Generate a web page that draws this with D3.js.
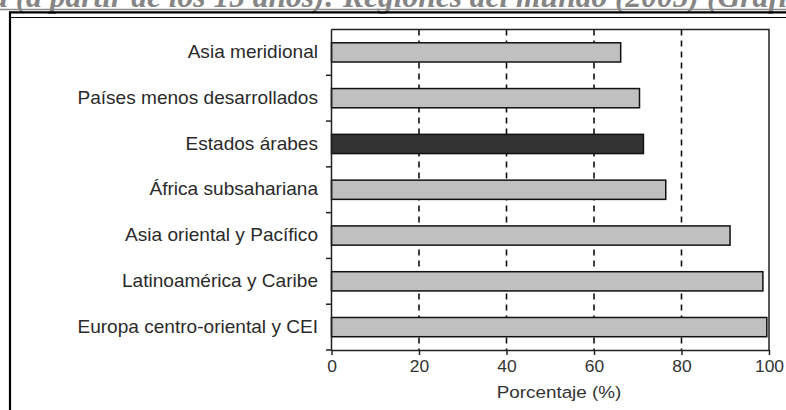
<!DOCTYPE html>
<html>
<head>
<meta charset="utf-8">
<script src="https://cdn.jsdelivr.net/npm/d3@7/dist/d3.min.js"></script>
<style>
  html, body { margin: 0; padding: 0; background: #fff; }
  svg { display: block; }
</style>
</head>
<body>
<svg id="chart" width="786" height="410"></svg>
<script>
// ---- data ----
const categories = [
  "Asia meridional",
  "Países menos desarrollados",
  "Estados árabes",
  "África subsahariana",
  "Asia oriental y Pacífico",
  "Latinoamérica y Caribe",
  "Europa centro-oriental y CEI"
];
const values = [66.1, 70.4, 71.3, 76.4, 91.1, 98.6, 99.5];
const highlighted = ["Estados árabes"];
const xTicks = [0, 20, 40, 60, 80, 100];
const gridTicks = [20, 40, 60, 80];
const xTitle = "Porcentaje (%)";
const headerText = "a (a partir de los 15 años): Regiones del mundo (2005) (Gráfico 1)";

// ---- layout ----
const svg = d3.select("#chart");
const pLeft = 331.5, pRight = 769, pTop = 29.5, pBottom = 350;
const SX = 1.09;
const font = "'Liberation Sans', Arial, sans-serif";

const x = d3.scaleLinear().domain([0, 100]).range([pLeft, pRight]);
const y = d3.scaleBand().domain(categories).range([pTop, pBottom])
  .paddingInner(0.58).paddingOuter(0.29);

// header (cut-off title) and frame
svg.append("text")
  .attr("x", -8).attr("y", 6.5)
  .attr("font-family", "'Liberation Serif', 'Times New Roman', serif")
  .attr("font-style", "italic").attr("font-weight", "bold")
  .attr("font-size", 31.5).attr("fill", "#858585")
  .text(headerText);
svg.append("line").attr("x1", 0).attr("x2", 786).attr("y1", 9.6).attr("y2", 9.6)
  .attr("stroke", "#8a8a8a").attr("stroke-width", 1.5);
svg.append("line").attr("x1", 9).attr("x2", 786).attr("y1", 12.3).attr("y2", 12.3)
  .attr("stroke", "#000").attr("stroke-width", 2.2);
svg.append("line").attr("x1", 11).attr("x2", 786).attr("y1", 17.5).attr("y2", 17.5)
  .attr("stroke", "#000").attr("stroke-width", 1);
svg.append("line").attr("x1", 10).attr("x2", 10).attr("y1", 11.5).attr("y2", 410)
  .attr("stroke", "#000").attr("stroke-width", 2.2);

// gridlines
svg.append("g").selectAll("line").data(gridTicks).join("line")
  .attr("x1", d => x(d)).attr("x2", d => x(d))
  .attr("y1", pTop).attr("y2", pBottom)
  .attr("stroke", "#111").attr("stroke-width", 1.6)
  .attr("stroke-dasharray", "6,5");

// plot frame top/right
svg.append("path")
  .attr("d", `M${pLeft},${pTop}H${pRight}V${pBottom}`)
  .attr("fill", "none").attr("stroke", "#222").attr("stroke-width", 1.5);

// bars
svg.append("g").selectAll("rect").data(categories).join("rect")
  .attr("x", x(0))
  .attr("y", d => y(d))
  .attr("width", (d, i) => x(values[i]) - x(0))
  .attr("height", y.bandwidth())
  .attr("fill", d => highlighted.includes(d) ? "#333333" : "#c0c0c0")
  .attr("stroke", "#111").attr("stroke-width", 1.5);

// x axis
const xAxis = svg.append("g").attr("transform", `translate(0,${pBottom})`)
  .call(d3.axisBottom(x).tickValues(xTicks).tickSize(5).tickSizeOuter(0).tickPadding(6));
xAxis.select(".domain").attr("stroke", "#222").attr("stroke-width", 1.5);
xAxis.selectAll(".tick line").attr("stroke", "#222").attr("stroke-width", 1.5);
xAxis.selectAll("text")
  .attr("font-family", font).attr("font-size", 16).attr("fill", "#333")
  .attr("transform", `scale(${SX},1)`);

// y axis (labels at centers, ticks at band boundaries)
const yAxis = svg.append("g").attr("transform", `translate(${pLeft},0)`)
  .call(d3.axisLeft(y).tickSize(0).tickSizeOuter(0).tickPadding(0));
yAxis.select(".domain").remove();
yAxis.selectAll("text")
  .attr("x", -13.5 / SX)
  .attr("font-family", font).attr("font-size", 17.5).attr("fill", "#2a2a2a")
  .attr("transform", `scale(${SX},1)`);

svg.append("line").attr("x1", pLeft).attr("x2", pLeft).attr("y1", pTop).attr("y2", pBottom)
  .attr("stroke", "#222").attr("stroke-width", 1.5);
const boundaries = categories.map((d, i) => pTop + y.step() * (i + 1));
svg.append("g").selectAll("line").data(boundaries).join("line")
  .attr("x1", pLeft - 5.5).attr("x2", pLeft)
  .attr("y1", d => d).attr("y2", d => d)
  .attr("stroke", "#222").attr("stroke-width", 1.5);

// x title
svg.append("text")
  .attr("transform", `translate(559,398) scale(${SX + 0.02},1)`)
  .attr("text-anchor", "middle")
  .attr("font-family", font).attr("font-size", 17).attr("fill", "#333")
  .text(xTitle);
</script>
</body>
</html>
